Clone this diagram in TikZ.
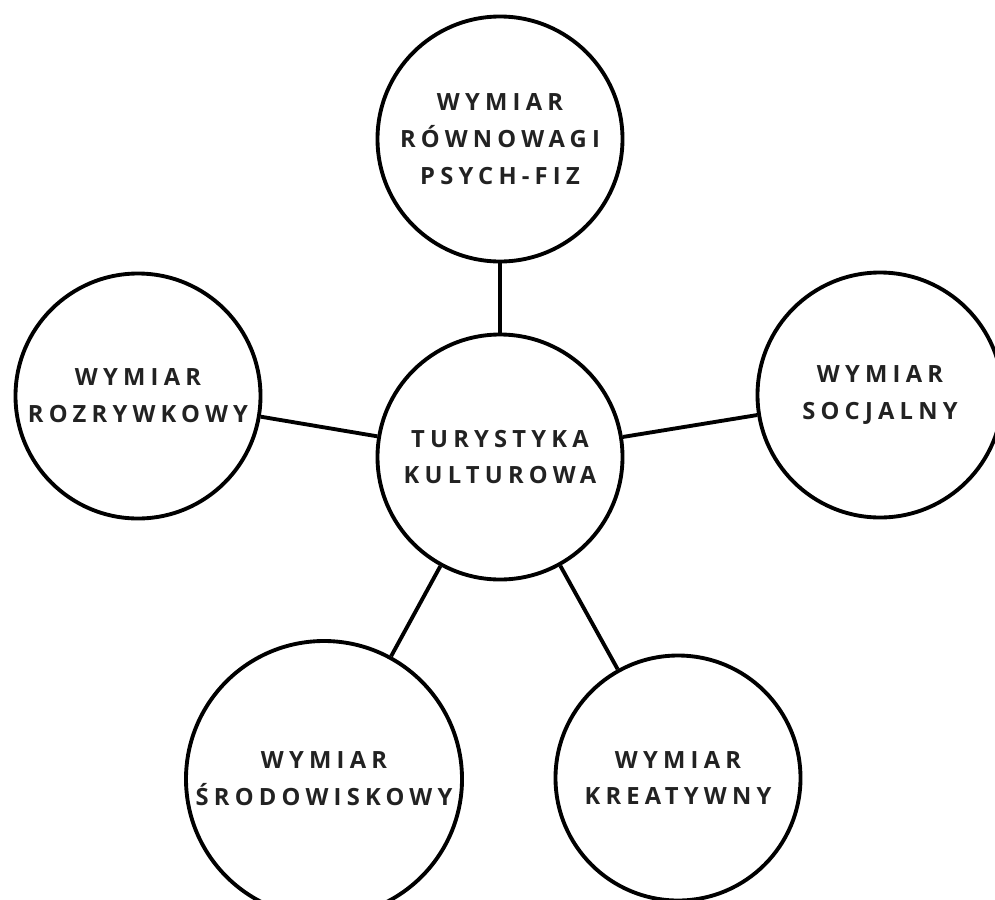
\documentclass[tikz,border=0pt]{standalone}
\usepackage{fontspec}
\setmainfont{Open Sans}[LetterSpace=22]
\definecolor{tekst}{HTML}{222222}

\begin{document}
\begin{tikzpicture}[x=1cm, y=1cm,
    wymiar/.style={circle, draw=black, line width=2.2pt, minimum size=4.9cm,
      align=center, text=tekst, font=\bfseries\fontsize{13.5}{21}\selectfont},
    lacznik/.style={line width=2.2pt, black}]

    % --- 1. obszar rysunku ---
    \useasboundingbox (0, 0) rectangle (19.9, -17.98);
    \clip (0, 0) rectangle (19.9, -17.98);

    % --- 2. kolo srodkowe ---
    \node[wymiar] (centrum) at (10.0, -9.14) {TURYSTYKA\\KULTUROWA};

    % --- 3. wymiary dookola ---
    \node[wymiar] (rownowaga)  at (10.0, -2.78)  {WYMIAR\\RÓWNOWAGI\\PSYCH-FIZ};
    \node[wymiar] (rozrywka)   at (2.76, -7.92)  {WYMIAR\\ROZRYWKOWY};
    \node[wymiar] (socjalny)   at (17.6, -7.9)   {WYMIAR\\SOCJALNY};
    \node[wymiar] (srodowisko) at (6.48, -15.58) {WYMIAR\\ŚRODOWISKOWY};
    \node[wymiar] (kreatywny)  at (13.56, -15.56) {WYMIAR\\KREATYWNY};

    % --- 4. polaczenia ---
    \draw[lacznik] (centrum) -- (rownowaga);
    \draw[lacznik] (centrum) -- (rozrywka);
    \draw[lacznik] (centrum) -- (socjalny);
    \draw[lacznik] (centrum) -- (srodowisko);
    \draw[lacznik] (centrum) -- (kreatywny);

\end{tikzpicture}
\end{document}
